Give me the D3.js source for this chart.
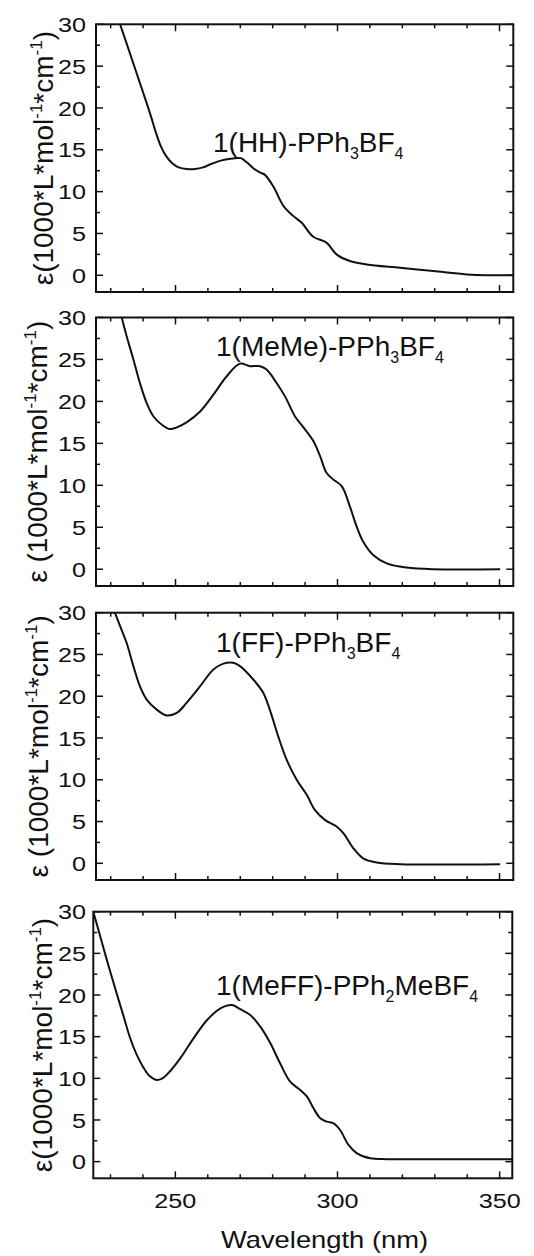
<!DOCTYPE html>
<html>
<head>
<meta charset="utf-8">
<script src="https://cdn.jsdelivr.net/npm/d3@7"></script>
<style>
  body { margin: 0; background: #fff; }
  svg { display: block; }
  text { font-family: "Liberation Sans", Arial, sans-serif; fill: #111; }
</style>
</head>
<body>
<svg width="534" height="1256"></svg>
<script>
// Data (wavelength in nm, epsilon in 1000 L/mol/cm)
const hhWl  = [232.9, 235.0, 237.0, 239.0, 241.0, 242.5, 244.0, 245.5, 247.0, 249.0, 251.0, 253.5, 256.0, 258.5, 261.0, 264.0, 266.5, 268.5, 270.2, 272.0, 274.0, 276.0, 277.6, 280.2, 283.3, 286.3, 288.9, 292.5, 296.6, 299.7, 303.8, 309.0, 319.3, 329.6, 339.9, 346.0, 354.2];
const hhEps = [30, 27.6, 25.3, 23.0, 20.7, 18.9, 17.0, 15.4, 14.3, 13.4, 12.9, 12.7, 12.7, 12.9, 13.3, 13.7, 13.9, 14.0, 14.0, 13.5, 12.8, 12.3, 12.0, 10.6, 8.3, 7.1, 6.3, 4.6, 3.9, 2.5, 1.7, 1.3, 0.9, 0.5, 0.1, 0, 0];

const mememeWl  = [233.4, 234.9, 237.0, 239.0, 241.1, 243.2, 246.2, 248.3, 250.4, 253.4, 257.6, 261.7, 265.8, 269.9, 273.0, 276.1, 278.1, 281.2, 283.8, 286.9, 289.5, 292.5, 294.6, 296.6, 298.7, 301.3, 303.8, 305.9, 307.9, 311.0, 315.2, 321.3, 329.6, 350.2];
const mememeEps = [30, 27.8, 25.0, 22.2, 19.8, 18.2, 17.1, 16.7, 16.9, 17.5, 18.8, 20.8, 23.0, 24.5, 24.2, 24.2, 23.8, 22.2, 20.6, 18.2, 16.9, 15.3, 13.5, 11.5, 10.7, 9.9, 7.5, 5.1, 3.3, 1.7, 0.7, 0.2, 0, 0];

const ffWl  = [231.3, 232.9, 234.9, 237.0, 239.0, 241.1, 244.2, 247.3, 250.4, 253.4, 257.6, 261.7, 264.8, 267.8, 269.9, 274.0, 277.1, 279.1, 281.7, 284.3, 287.4, 290.5, 293.0, 296.1, 299.7, 301.8, 304.9, 307.9, 312.1, 319.3, 350.2];
const ffEps = [30, 28.4, 26.4, 23.6, 21.2, 19.6, 18.4, 17.7, 18.0, 19.2, 21.2, 23.2, 23.9, 24.0, 23.6, 22.0, 20.4, 18.4, 15.2, 12.4, 10.0, 8.2, 6.4, 5.2, 4.4, 3.6, 1.8, 0.6, 0.1, -0.1, -0.1];

const meffWl  = [224.7, 226.5, 228.3, 230.0, 231.9, 234.0, 236.0, 238.0, 240.0, 242.0, 244.2, 246.0, 248.0, 251.5, 255.6, 259.8, 263.9, 267.5, 270.0, 273.1, 276.2, 279.3, 282.3, 285.4, 288.5, 290.6, 292.6, 294.7, 296.7, 298.8, 300.8, 303.4, 306.0, 310.1, 315.2, 324.4, 353.9];
const meffEps = [30, 27.5, 25.0, 22.7, 20.2, 17.5, 14.9, 12.9, 11.4, 10.3, 9.8, 10.0, 10.7, 12.4, 14.8, 17.0, 18.4, 18.8, 18.3, 17.6, 16.2, 14.2, 11.8, 9.6, 8.6, 7.8, 6.4, 5.2, 4.8, 4.6, 3.8, 2.0, 1.0, 0.4, 0.3, 0.3, 0.3];

// Ticks
const xTicks = d3.range(230, 351, 10);
const xTickLabels = [250, 300, 350];
const yTicks = d3.range(0, 30.01, 2.5);
const yTickLabels = [0, 5, 10, 15, 20, 25, 30];

// Compound names ([text, isSubscript])
const names = [
  [["1(HH)-PPh", 0], ["3", 1], ["BF", 0], ["4", 1]],
  [["1(MeMe)-PPh", 0], ["3", 1], ["BF", 0], ["4", 1]],
  [["1(FF)-PPh", 0], ["3", 1], ["BF", 0], ["4", 1]],
  [["1(MeFF)-PPh", 0], ["2", 1], ["MeBF", 0], ["4", 1]]
];
const yLabelHeads = ["ε(", "ε (", "ε (", "ε("];

// Layout of each panel
const panels = [
  { wl: hhWl,     eps: hhEps,     top: 24.3,  bottom: 292,    left: 96,   right: 513.3, xDom: [225.46, 354.26], labX: 53, nameX: 213, nameY: 152 },
  { wl: mememeWl, eps: mememeEps, top: 317.5, bottom: 586,    left: 96,   right: 513.3, xDom: [225.46, 354.26], labX: 47, nameX: 216, nameY: 356 },
  { wl: ffWl,     eps: ffEps,     top: 612.7, bottom: 880,    left: 96,   right: 513.3, xDom: [225.46, 354.26], labX: 48, nameX: 216, nameY: 652 },
  { wl: meffWl,   eps: meffEps,   top: 911.7, bottom: 1178.3, left: 93.3, right: 512.3, xDom: [224.7, 353.9],   labX: 52, nameX: 216, nameY: 995 }
];

let svg = d3.select("svg");
svg.append("rect").attr("width", 534).attr("height", 1256).attr("fill", "#fff");

const ink = "#111";
const majorLen = 7, minorLen = 4;

panels.forEach(function(p, i) {
  let x = d3.scaleLinear().domain(p.xDom).range([p.left, p.right]);
  let y = d3.scaleLinear().domain([-2, 30]).range([p.bottom, p.top]);
  let g = svg.append("g");

  // clip for the curve
  g.append("clipPath").attr("id", "clip" + i)
    .append("rect")
    .attr("x", p.left).attr("y", p.top)
    .attr("width", p.right - p.left).attr("height", p.bottom - p.top);

  // x ticks, bottom and top, inward
  xTicks.forEach(function(t) {
    let len = xTickLabels.includes(t) ? majorLen : minorLen;
    g.append("line").attr("x1", x(t)).attr("x2", x(t))
      .attr("y1", p.bottom).attr("y2", p.bottom - len)
      .attr("stroke", ink).attr("stroke-width", 1.5);
    g.append("line").attr("x1", x(t)).attr("x2", x(t))
      .attr("y1", p.top).attr("y2", p.top + len)
      .attr("stroke", ink).attr("stroke-width", 1.5);
  });

  // y ticks, left and right, inward
  yTicks.forEach(function(t) {
    let len = (t % 5 === 0) ? majorLen : minorLen;
    g.append("line").attr("x1", p.left).attr("x2", p.left + len)
      .attr("y1", y(t)).attr("y2", y(t))
      .attr("stroke", ink).attr("stroke-width", 1.5);
    g.append("line").attr("x1", p.right).attr("x2", p.right - len)
      .attr("y1", y(t)).attr("y2", y(t))
      .attr("stroke", ink).attr("stroke-width", 1.5);
  });

  // y tick labels
  yTickLabels.forEach(function(t) {
    g.append("text")
      .attr("transform", "translate(86," + y(t) + ") scale(1.2,1)")
      .attr("text-anchor", "end")
      .attr("dy", "0.36em")
      .style("font-size", "21px")
      .text(t);
  });

  // frame
  g.append("rect")
    .attr("x", p.left).attr("y", p.top)
    .attr("width", p.right - p.left).attr("height", p.bottom - p.top)
    .attr("fill", "none").attr("stroke", ink).attr("stroke-width", 2);

  // spectrum
  let line = d3.line()
    .x((d, k) => x(p.wl[k]))
    .y(d => y(d))
    .curve(d3.curveCatmullRom.alpha(0.5));
  g.append("path")
    .datum(p.eps)
    .attr("clip-path", "url(#clip" + i + ")")
    .attr("d", line)
    .attr("fill", "none")
    .attr("stroke", ink)
    .attr("stroke-width", 2);

  // compound name
  let nm = g.append("text")
    .attr("x", p.nameX).attr("y", p.nameY)
    .style("font-size", "28px");
  names[i].forEach(function(part) {
    if (part[1]) {
      nm.append("tspan").attr("dy", 7).style("font-size", "16px").text(part[0]);
    } else {
      nm.append("tspan").attr("y", p.nameY).text(part[0]);
    }
  });

  // y axis label
  let cy = (p.top + p.bottom) / 2;
  let yl = g.append("text")
    .attr("transform", "translate(" + p.labX + "," + cy + ") rotate(-90)")
    .attr("text-anchor", "middle")
    .style("font-size", "28px");
  yl.append("tspan").text(yLabelHeads[i] + "1000*L*mol");
  yl.append("tspan").attr("dy", -11).style("font-size", "17px").text("-1");
  yl.append("tspan").attr("dy", 11).text("*cm");
  yl.append("tspan").attr("dy", -11).style("font-size", "17px").text("-1");
  yl.append("tspan").attr("dy", 11).text(")");

  // x tick labels and title only under the last panel
  if (i === panels.length - 1) {
    xTickLabels.forEach(function(t) {
      g.append("text")
        .attr("transform", "translate(" + x(t) + ",1208) scale(1.2,1)")
        .attr("text-anchor", "middle")
        .style("font-size", "21px")
        .text(t);
    });
    g.append("text")
      .attr("transform", "translate(" + x(296) + ",1248) scale(1.19,1)")
      .attr("text-anchor", "middle")
      .style("font-size", "23px")
      .text("Wavelength (nm)");
  }
});
</script>
</body>
</html>
